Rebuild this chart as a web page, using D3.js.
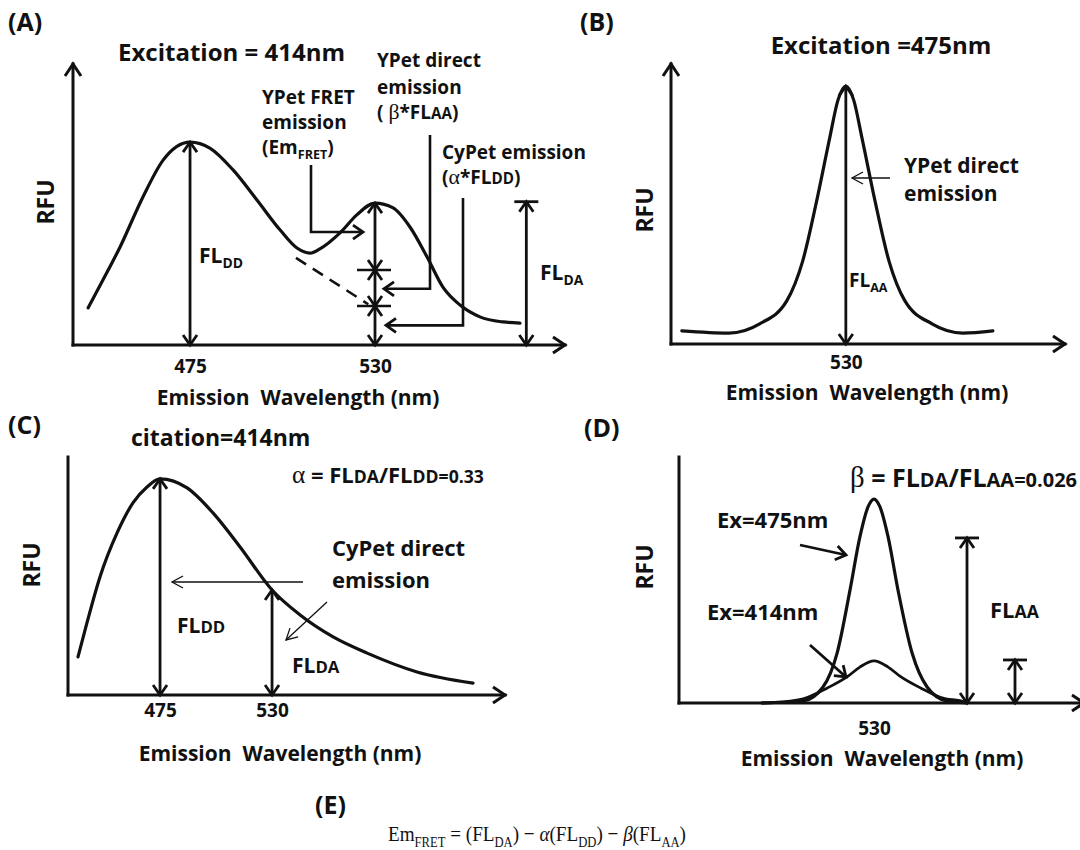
<!DOCTYPE html>
<html>
<head>
<meta charset="utf-8">
<script src="https://cdn.jsdelivr.net/npm/d3@7"></script>
<style>
  body { margin: 0; background: #fff; }
  svg text { font-family: "Open Sans", Lato, sans-serif; font-weight: 700; fill: #111; white-space: pre; }
  svg .serif { font-family: "Liberation Serif", "Times New Roman", serif; font-weight: 400; }
</style>
</head>
<body>
<svg id="fig" width="1080" height="850"></svg>
<script>
// (A) CyPet-YPet pair excited at 414 nm: donor peak + sensitized acceptor peak
var waveA = [444.7, 449.1, 454.2, 461.0, 467.0, 475, 480.9, 487.8, 494.9, 501.8, 506.8, 510.7,
             513.6, 519.6, 524.6, 530, 535.4, 540.4, 545.5, 550.2, 555.3, 561.2, 568.1, 573.1];
var rfuA  = [0.132, 0.231, 0.349, 0.527, 0.658, 0.722, 0.701, 0.623, 0.516, 0.409, 0.345, 0.327,
             0.342, 0.399, 0.463, 0.505, 0.488, 0.420, 0.313, 0.206, 0.142, 0.100, 0.082, 0.078];
var tailWaveA = [506.5, 528];      // extrapolated CyPet tail (dashed)
var tailRfuA  = [0.31, 0.145];
var splitA = [0, 0.139, 0.267, 0.505]; // alpha*FLdd | beta*FLaa | EmFRET, stacked at 530
var fldaA = 0.51, fldaWaveA = 575;
var ticksA = [475, 530];

// (B) YPet alone excited at 475 nm
var waveB = [463.4, 482.5, 495, 506, 512.5, 518.2, 523.5, 526.8, 530, 533.2, 536.5, 541.8, 547.5, 554, 565, 577.5, 589.7];
var rfuB  = [0.047, 0.039, 0.072, 0.154, 0.297, 0.513, 0.738, 0.871, 0.921, 0.871, 0.738, 0.513, 0.297, 0.154, 0.072, 0.039, 0.047];
var ticksB = [530];

// (C) CyPet alone excited at 414 nm
var waveC = [434.7, 439.1, 445.5, 453.9, 461.7, 468.6, 475, 488.3, 501.0, 514.3, 530, 543.8, 560, 576.7, 601.2, 628.7];
var rfuC  = [0.160, 0.303, 0.496, 0.681, 0.807, 0.874, 0.908, 0.870, 0.765, 0.622, 0.441, 0.336, 0.244, 0.176, 0.097, 0.050];
var ticksC = [475, 530];

// (D) YPet alone at two excitation wavelengths
var waveD475 = [492.7, 506.3, 513, 517.7, 522, 525.3, 528, 530, 532, 534.7, 538, 542.7, 547.7, 554.3, 561];
var rfuD475  = [0, 0.008, 0.065, 0.203, 0.459, 0.675, 0.797, 0.829, 0.797, 0.675, 0.459, 0.203, 0.065, 0.008, 0];
var waveD414 = [492.7, 499.7, 507.7, 514.3, 521, 525.3, 530, 534.7, 539, 545.7, 552.3, 560.3, 561];
var rfuD414  = [0, 0.004, 0.022, 0.06, 0.106, 0.146, 0.171, 0.146, 0.106, 0.06, 0.022, 0.004, 0];
var flaaD = 0.671, flaaWaveD = 561;
var fldaD = 0.175, fldaWaveD = 577;
var ticksD = [530];

var INK = "#111";
var svg = d3.select("#fig");
var defs = svg.append("defs");

function marker(id, len, half, sw) {
  defs.append("marker").attr("id", id)
    .attr("viewBox", (-len - sw) + " " + (-half - sw) + " " + (len + 2 * sw) + " " + (2 * half + 2 * sw))
    .attr("refX", 0).attr("refY", 0)
    .attr("markerWidth", len + 2 * sw).attr("markerHeight", 2 * half + 2 * sw)
    .attr("markerUnits", "userSpaceOnUse")
    .attr("orient", "auto-start-reverse")
    .style("overflow", "visible")
    .append("path").attr("d", "M" + (-len) + "," + (-half) + "L0,0L" + (-len) + "," + half)
    .attr("fill", "none").attr("stroke", INK).attr("stroke-width", sw);
}
marker("ax", 12, 8, 3);
marker("hd", 10, 7, 2.8);
marker("thin", 11, 6, 1.3);

function panel(xd, xr, yr) {
  return { x: d3.scaleLinear().domain(xd).range(xr), y: d3.scaleLinear().domain([0, 1]).range(yr) };
}
var pA = panel([440.2, 586.5], [73, 565], [345, 64]);
var pB = panel([459, 619], [671, 1065], [344, 64]);
var pC = panel([429.8, 644.4], [68, 505], [695, 457]);
var pD = panel([465, 600], [679, 1084], [703, 457]);

function seg(pts, sw, m0, m1, dash) {
  var p = svg.append("path").attr("d", d3.line()(pts))
    .attr("fill", "none").attr("stroke", INK).attr("stroke-width", sw);
  if (m0) p.attr("marker-start", "url(#" + m0 + ")");
  if (m1) p.attr("marker-end", "url(#" + m1 + ")");
  if (dash) p.attr("stroke-dasharray", dash);
  return p;
}

function frame(p, topArrow, tickVals, pad) {
  var x0 = p.x.range()[0], x1 = p.x.range()[1], y0 = p.y.range()[0], y1 = p.y.range()[1];
  seg([[x0, y0], [x1, y0]], 3, null, "ax").attr("stroke-linecap", "square");
  seg([[x0, y0], [x0, y1]], 3, null, topArrow ? "ax" : null).attr("stroke-linecap", "square");
  var g = svg.append("g").attr("transform", "translate(0," + y0 + ")")
    .call(d3.axisBottom(p.x).tickValues(tickVals).tickSize(0).tickPadding(pad).tickFormat(d3.format("d")));
  g.select(".domain").remove();
  g.selectAll("text").attr("font-size", 19);
}

function curve(p, wave, rfu, sw) {
  svg.append("path").datum(d3.zip(wave, rfu))
    .attr("d", d3.line().x(function (d) { return p.x(d[0]); }).y(function (d) { return p.y(d[1]); })
      .curve(d3.curveMonotoneX))
    .attr("fill", "none").attr("stroke", INK).attr("stroke-width", sw)
    .attr("stroke-linecap", "round").attr("stroke-linejoin", "round");
}

// vertical double-headed arrow between two RFU levels; optional cap bar on top
function span(p, w, r0, r1, bar) {
  var x = p.x(w);
  seg([[x, p.y(r1)], [x, p.y(r0)]], 2.8, "hd", "hd");
  if (bar) seg([[x - bar, p.y(r1)], [x + bar, p.y(r1)]], 2.8);
}

function rich(x, yc, fs, parts, anchor) {
  var t = svg.append("text").attr("x", x).attr("y", yc + 0.36 * fs)
    .attr("font-size", fs).attr("text-anchor", anchor || "start");
  var shift = 0;
  parts.forEach(function (q) {
    if (typeof q === "string") q = [q, "n"];
    var k = q[1], dy = k === "sub" ? fs * 0.28 : 0;
    var ts = t.append("tspan").attr("dy", dy - shift).text(q[0]);
    if (k === "s") ts.attr("font-size", fs * 0.8);
    if (k === "sub") ts.attr("font-size", fs * 0.66);
    if (k === "g") ts.attr("class", "serif").attr("font-size", fs * 1.15);
    if (k === "i") ts.style("font-style", "italic");
    shift = dy;
  });
  return t;
}
function txt(x, yc, fs, s, anchor) { return rich(x, yc, fs, [s], anchor); }
function vtxt(x, yc, fs, s) {
  svg.append("text").attr("transform", "translate(" + x + "," + yc + ") rotate(-90)")
    .attr("text-anchor", "middle").attr("dy", "0.36em").attr("font-size", fs).text(s);
}

// ---------- (A) ----------
frame(pA, true, ticksA, 15);
curve(pA, waveA, rfuA, 3.2);
seg(d3.zip(tailWaveA.map(pA.x), tailRfuA.map(pA.y)), 2.6, null, null, "12,8");
span(pA, 475, 0, rfuA[waveA.indexOf(475)]);
for (var i = 0; i < 3; i++) span(pA, 530, splitA[i], splitA[i + 1]);
[splitA[1], splitA[2]].forEach(function (r) {
  seg([[pA.x(530) - 18, pA.y(r)], [pA.x(530) + 16, pA.y(r)]], 2.6);
});
span(pA, fldaWaveA, 0, fldaA, 12);
seg([[311, 165], [311, pA.y(0.402)], [pA.x(530) - 12, pA.y(0.402)]], 2.6, null, "hd");
seg([[430, 135], [430, pA.y(0.2)], [pA.x(530) + 9, pA.y(0.2)]], 2.6, null, "hd");
seg([[463, 198], [463, pA.y(0.07)], [pA.x(530) + 11, pA.y(0.07)]], 2.6, null, "hd");

txt(8, 22, 25, "(A)");
txt(118, 52, 24, "Excitation = 414nm");
vtxt(46, 202, 23, "RFU");
txt(262, 97, 19, "YPet FRET");
txt(262, 122, 19, "emission");
rich(262, 147, 19, ["(Em", ["FRET", "sub"], ")"]);
txt(377, 60, 19, "YPet direct");
txt(377, 87, 19, "emission");
rich(377, 112, 19, ["( ", ["β", "g"], "*FL", ["AA", "s"], ")"]);
txt(442, 152, 19, "CyPet emission");
rich(442, 177, 19, ["(", ["α", "g"], "*FL", ["DD", "s"], ")"]);
rich(199, 255, 21, ["FL", ["DD", "sub"]]);
rich(540, 272, 21, ["FL", ["DA", "sub"]]);
txt(298, 397, 21, "Emission  Wavelength (nm)", "middle");

// ---------- (B) ----------
frame(pB, true, ticksB, 12);
curve(pB, waveB, rfuB, 3.2);
span(pB, 530, 0, d3.max(rfuB));
seg([[890, 178], [852, 178]], 1.3, null, "thin");
txt(580, 22, 25, "(B)");
txt(881, 45, 24, "Excitation =475nm", "middle");
vtxt(645, 210, 23, "RFU");
txt(904, 165, 21, "YPet direct");
txt(904, 193, 21, "emission");
rich(849, 280, 19, ["FL", ["AA", "sub"]]);
txt(867, 392, 21, "Emission  Wavelength (nm)", "middle");

// ---------- (C) ----------
frame(pC, false, ticksC, 9);
curve(pC, waveC, rfuC, 3.2);
span(pC, 475, 0, rfuC[waveC.indexOf(475)]);
span(pC, 530, 0, rfuC[waveC.indexOf(530)]);
seg([[303, 582], [172, 582]], 1.3, null, "thin");
seg([[327, 602], [286, 640]], 1.3, null, "thin");
txt(8, 425, 25, "(C)");
txt(131, 438, 23, "citation=414nm");
vtxt(32, 565, 23, "RFU");
rich(292, 475, 22, [["α", "g"], " = FL", ["DA", "s"], "/FL", ["DD=0.33", "s"]]);
txt(332, 548, 22, "CyPet direct");
txt(332, 580, 22, "emission");
rich(177, 625, 21, ["FL", ["DD", "s"]]);
rich(292, 665, 21, ["FL", ["DA", "s"]]);
txt(280, 753, 21, "Emission  Wavelength (nm)", "middle");

// ---------- (D) ----------
frame(pD, false, ticksD, 19);
curve(pD, waveD475, rfuD475, 3.2);
curve(pD, waveD414, rfuD414, 2.8);
span(pD, flaaWaveD, 0, flaaD, 12);
span(pD, fldaWaveD, 0, fldaD, 12);
seg([[800, 545], [846, 555]], 2.8, null, "hd");
seg([[810, 645], [846, 677]], 2.8, null, "hd");
txt(584, 428, 25, "(D)");
vtxt(645, 567, 23, "RFU");
rich(850, 478, 25, [["β", "g"], " = FL", ["DA", "s"], "/FL", ["AA=0.026", "s"]]);
txt(717, 520, 22, "Ex=475nm");
txt(707, 612, 22, "Ex=414nm");
rich(990, 610, 22, ["FL", ["AA", "s"]]);
txt(882, 758, 21, "Emission  Wavelength (nm)", "middle");

// ---------- (E) ----------
txt(315, 805, 25, "(E)");
// typeset equation, set a little condensed
rich(0, 833, 22, ["Em", ["FRET", "sub"], " = (FL", ["DA", "sub"], ") − ", ["α", "i"], "(FL", ["DD", "sub"],
  ") − ", ["β", "i"], "(FL", ["AA", "sub"], ")"])
  .attr("class", "serif")
  .attr("transform", "translate(388,0) scale(0.87,1)");
</script>
</body>
</html>
